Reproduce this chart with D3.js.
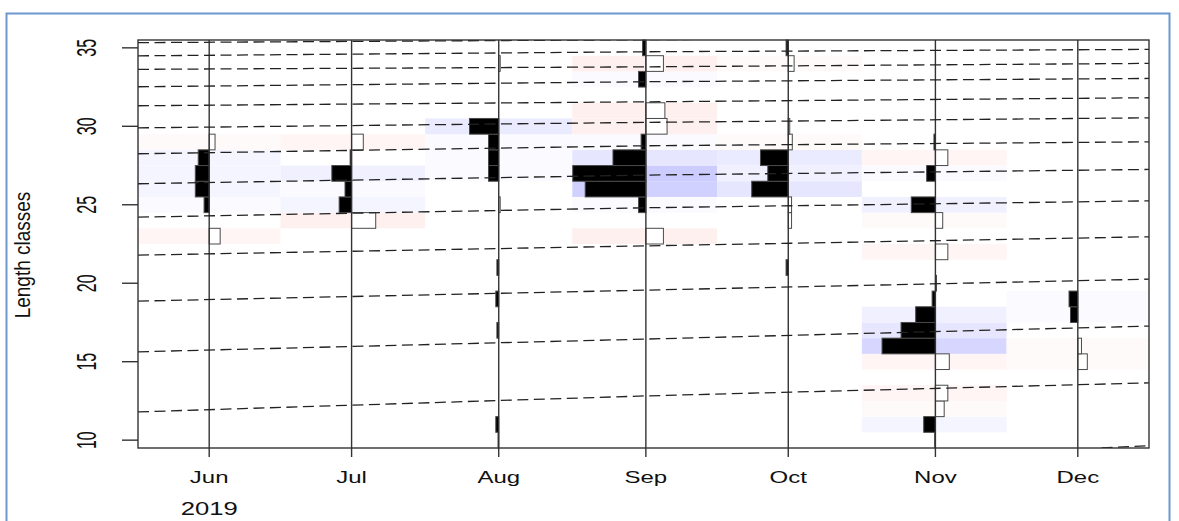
<!DOCTYPE html>
<html>
<head>
<meta charset="utf-8">
<script src="https://cdn.jsdelivr.net/npm/d3@7"></script>
<style>
  body { margin: 0; background: #fff; }
  svg { display: block; }
  text { font-family: "Liberation Sans", Arial, sans-serif; fill: #111; }
</style>
</head>
<body>
<svg id="chart" width="1179" height="521"></svg>
<script>
// ---- data -----------------------------------------------------------------
// Sampling dates of the length-frequency data
const sampleDates = ["2019-06-01", "2019-07-01", "2019-08-01", "2019-09-01",
                     "2019-10-01", "2019-11-01", "2019-12-01"];

// Length classes (mid-points, 1 cm wide)
const lengthClasses = [10, 11, 12, 13, 14, 15, 16, 17, 18, 19, 20, 21, 22,
                       23, 24, 25, 26, 27, 28, 29, 30, 31, 32, 33, 34, 35];

// Restructured scores per sample, one value per length class (10 ... 35)
const scoresJun = [0, 0, 0, 0, 0, 0, 0, 0, 0, 0, 0, 0, 0,
                   -0.15, 0, 0.07, 0.19, 0.19, 0.15, -0.08, 0, 0, 0, 0, 0, 0];
const scoresJul = [0, 0, 0, 0, 0, 0, 0, 0, 0, 0, 0, 0, 0,
                   0, -0.33, 0.17, 0.09, 0.27, 0.02, -0.16, 0, 0, 0, 0, 0, 0];
const scoresAug = [0.01, 0.04, 0, 0, 0, 0, 0, 0.025, 0, 0.04, 0, 0.025, 0,
                   0, 0, -0.02, 0, 0.14, 0.14, 0.14, 0.40, 0, 0, 0, -0.02, 0];
const scoresSep = [0, 0, 0, 0, 0, 0, 0, 0, 0, 0, 0, 0, 0,
                   -0.24, 0, 0.10, 0.83, 1.00, 0.45, 0.065, -0.29, -0.26, 0, 0.10, -0.24, 0.045];
const scoresOct = [0, 0, 0, 0, 0, 0, 0, 0, 0, 0, 0, 0.03, 0,
                   0, -0.045, -0.045, 0.50, 0.28, 0.38, -0.055, -0.02, 0, 0, 0, -0.08, 0.03];
const scoresNov = [0.01, 0.16, -0.12, -0.17, 0, -0.19, 0.73, 0.47, 0.27, 0.045, -0.015, 0, -0.17,
                   0, -0.10, 0.33, 0, 0.12, -0.17, 0.02, 0, 0, 0, 0, 0, 0];
const scoresDec = [0, 0, 0, 0, 0, -0.13, -0.05, 0, 0.10, 0.12, 0, 0, 0,
                   0, 0, 0, 0, 0, 0, 0, 0, 0, 0, 0, 0, 0];

// Growth curves (cohort lengths at three dates across the plotted period)
const curveDates = ["2019-05-17", "2019-09-01", "2019-12-16"];
const cohort1  = [35.33, 35.52, 35.70];
const cohort2  = [34.49, 34.75, 34.90];
const cohort3  = [33.63, 33.79, 34.01];
const cohort4  = [32.52, 32.84, 33.05];
const cohort5  = [31.31, 31.56, 31.82];
const cohort6  = [29.90, 30.25, 30.54];
const cohort7  = [28.25, 28.76, 29.01];
const cohort8  = [26.34, 26.89, 27.25];
const cohort9  = [24.21, 24.81, 25.25];
const cohort10 = [21.79, 22.38, 22.96];
const cohort11 = [18.86, 19.56, 20.26];
const cohort12 = [15.63, 16.44, 17.27];
const cohort13 = [11.80, 12.82, 13.65];
// youngest cohort enters the length range in December
const recruitDates = ["2019-12-06", "2019-12-16"];
const cohortRecruit = [9.50, 9.65];

// Axis labels
const monthTicks = ["2019-06-01", "2019-07-01", "2019-08-01", "2019-09-01",
                    "2019-10-01", "2019-11-01", "2019-12-01"];
const monthLabels = ["Jun", "Jul", "Aug", "Sep", "Oct", "Nov", "Dec"];
const yearLabel = "2019";
const yTicks = [10, 15, 20, 25, 30, 35];
const yTitle = "Length classes";

// ---- setup ----------------------------------------------------------------
const parse = d3.timeParse("%Y-%m-%d");
const dates = sampleDates.map(parse);
const scores = [scoresJun, scoresJul, scoresAug, scoresSep, scoresOct, scoresNov, scoresDec];

const plot = { left: 138, right: 1149, top: 40, bottom: 448 };
const x = d3.scaleTime()
  .domain([parse("2019-05-17"), parse("2019-12-16")])
  .range([plot.left, plot.right]);
const y = d3.scaleLinear().domain([9.5, 35.5]).range([plot.bottom, plot.top]);

const DAY = 864e5;
const barDays = 15.4;          // bar length for a score of 1
const svg = d3.select("#chart");

// red - white - blue palette, 21 steps, symmetric around zero
const ramp = d3.piecewise(d3.interpolateRgb, ["rgb(255,204,204)", "rgb(255,255,255)", "rgb(204,204,255)"]);
const palette = d3.range(21).map(i => ramp(i / 20));
const zmax = d3.max(scores.flat(), v => Math.abs(v));
const colourOf = v => palette[Math.max(0, Math.min(20, Math.floor((v / zmax + 1) / 2 * 21)))];

// interval of each sample: half-way to its neighbours
const bandEdges = dates.map((d, i) => {
  const lo = i === 0 ? x.domain()[0] : new Date((dates[i - 1].getTime() + d.getTime()) / 2);
  const hi = i === dates.length - 1 ? x.domain()[1] : new Date((dates[i + 1].getTime() + d.getTime()) / 2);
  return [lo, hi];
});

svg.append("defs").append("clipPath").attr("id", "plotClip")
  .append("rect")
  .attr("x", plot.left).attr("y", plot.top)
  .attr("width", plot.right - plot.left).attr("height", plot.bottom - plot.top);

// outer frame
svg.append("path")
  .attr("d", "M6.5,521 V13.5 H1169.5 V521")
  .attr("fill", "none").attr("stroke", "#6d98cf").attr("stroke-width", 2);

// ---- shaded score cells ---------------------------------------------------
const cells = [];
scores.forEach((arr, i) => arr.forEach((v, j) => {
  const c = colourOf(v);
  if (c !== "rgb(255, 255, 255)") cells.push({ i, L: lengthClasses[j], v, c });
}));
svg.append("g").attr("clip-path", "url(#plotClip)")
  .selectAll("rect").data(cells).join("rect")
  .attr("x", d => x(bandEdges[d.i][0]))
  .attr("width", d => x(bandEdges[d.i][1]) - x(bandEdges[d.i][0]))
  .attr("y", d => y(d.L + 0.5))
  .attr("height", d => y(d.L - 0.5) - y(d.L + 0.5))
  .attr("fill", d => d.c);

// ---- score bars -----------------------------------------------------------
const bars = [];
scores.forEach((arr, i) => arr.forEach((v, j) => {
  if (v !== 0) bars.push({ i, L: lengthClasses[j], v });
}));
svg.append("g")
  .selectAll("rect").data(bars).join("rect")
  .attr("x", d => d.v > 0 ? x(new Date(dates[d.i].getTime() - d.v * barDays * DAY)) : x(dates[d.i]))
  .attr("width", d => Math.abs(x(new Date(dates[d.i].getTime() + Math.abs(d.v) * barDays * DAY)) - x(dates[d.i])))
  .attr("y", d => y(d.L + 0.5))
  .attr("height", d => y(d.L - 0.5) - y(d.L + 0.5))
  .attr("fill", d => d.v > 0 ? "#000" : "#fff")
  .attr("stroke", "#4a4a4a").attr("stroke-width", 1);

// ---- sample lines ---------------------------------------------------------
svg.append("g").selectAll("line").data(dates).join("line")
  .attr("x1", d => x(d)).attr("x2", d => x(d))
  .attr("y1", plot.top).attr("y2", plot.bottom)
  .attr("stroke", "#333").attr("stroke-width", 1.4);

// ---- growth curves --------------------------------------------------------
const cohorts = [cohort1, cohort2, cohort3, cohort4, cohort5, cohort6, cohort7,
                 cohort8, cohort9, cohort10, cohort11, cohort12, cohort13];
const curveSeries = cohorts.map(c => c.map((L, k) => [parse(curveDates[k]), L]));
curveSeries.push(cohortRecruit.map((L, k) => [parse(recruitDates[k]), L]));
const line = d3.line().x(d => x(d[0])).y(d => y(d[1]));
svg.append("g").attr("clip-path", "url(#plotClip)")
  .selectAll("path").data(curveSeries).join("path")
  .attr("d", line)
  .attr("fill", "none").attr("stroke", "#222").attr("stroke-width", 1.3)
  .attr("stroke-dasharray", "11,5.5");

// ---- box and axes ---------------------------------------------------------
svg.append("rect")
  .attr("x", plot.left).attr("y", plot.top)
  .attr("width", plot.right - plot.left).attr("height", plot.bottom - plot.top)
  .attr("fill", "none").attr("stroke", "#333").attr("stroke-width", 1.4);

const yAxis = svg.append("g");
yAxis.selectAll("line").data(yTicks).join("line")
  .attr("x1", plot.left - 16).attr("x2", plot.left)
  .attr("y1", d => y(d)).attr("y2", d => y(d))
  .attr("stroke", "#333").attr("stroke-width", 1.4);
yAxis.selectAll("text").data(yTicks).join("text")
  .attr("transform", d => `translate(96,${y(d)}) scale(1.7,1) rotate(-90)`)
  .attr("text-anchor", "middle")
  .style("font-size", "16px")
  .text(d => d);

svg.append("text")
  .attr("transform", `translate(30,255) scale(1.2,1) rotate(-90)`)
  .attr("text-anchor", "middle")
  .style("font-size", "19px")
  .text(yTitle);

const ticks = monthTicks.map(parse);
const xAxis = svg.append("g");
xAxis.selectAll("line").data(ticks).join("line")
  .attr("x1", d => x(d)).attr("x2", d => x(d))
  .attr("y1", plot.bottom).attr("y2", plot.bottom + 9)
  .attr("stroke", "#333").attr("stroke-width", 1.4);
xAxis.selectAll("text").data(ticks).join("text")
  .attr("transform", d => `translate(${x(d)},483) scale(1.5,1)`)
  .attr("text-anchor", "middle")
  .style("font-size", "16px")
  .text((d, i) => monthLabels[i]);

svg.append("text")
  .attr("transform", `translate(${x(ticks[0])},515) scale(1.35,1)`)
  .attr("text-anchor", "middle")
  .style("font-size", "19px")
  .text(yearLabel);
</script>
</body>
</html>
